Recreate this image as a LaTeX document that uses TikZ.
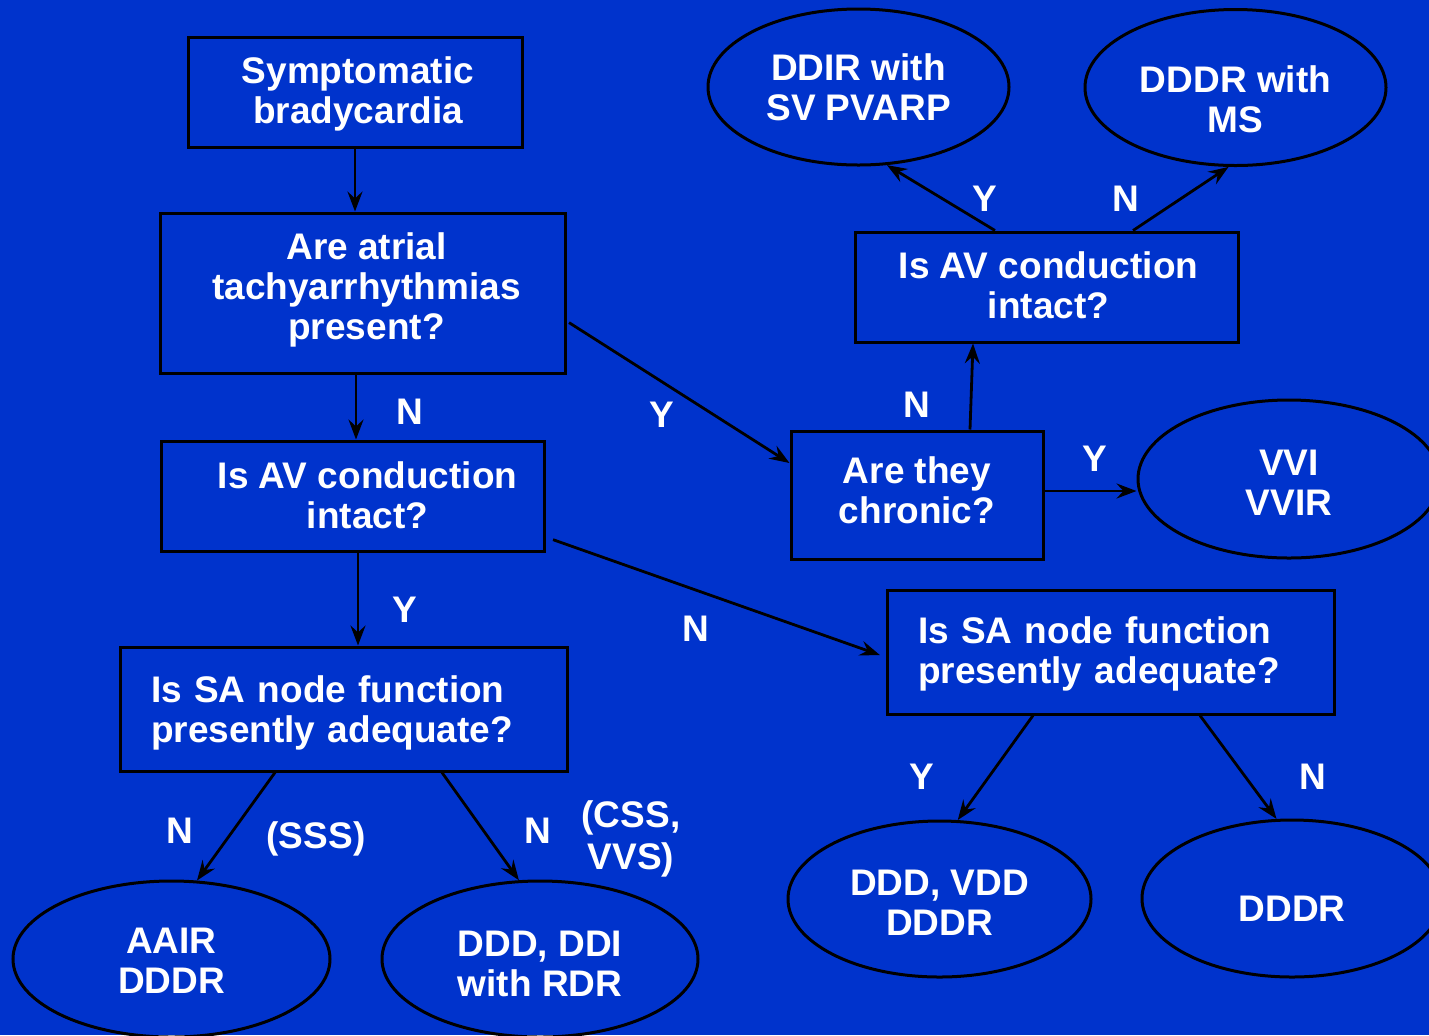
\documentclass[tikz,border=0pt]{standalone}
\usepackage{fontspec}
\setmainfont{Liberation Sans}
\usetikzlibrary{arrows.meta,shapes.geometric}
\definecolor{bgblue}{RGB}{0,51,204}
\newcommand\myshift[3]{\raisebox{#2}[\height][\depth]{\hspace*{#1}\begin{tabular}{@{}c@{}}#3\end{tabular}}}
\newcommand\myshiftl[2]{\raisebox{#1}[\height][\depth]{\begin{tabular}{@{}l@{}}#2\end{tabular}}}
\begin{document}
\begin{tikzpicture}[x=0.5pt,y=-0.5pt,
  every node/.style={font=\fontsize{18.5}{20}\selectfont\bfseries, text=white},
  box/.style={draw=black, line width=1.5pt, rectangle, inner sep=0pt, align=center},
  lbox/.style={box, align=left, text width=192.5pt, inner xsep=15.5pt, minimum width=223.5pt, minimum height=62pt},
  ell/.style={draw=black, line width=1.5pt, ellipse, inner sep=0pt, align=center},
  arr/.style={draw=black, line width=1.4pt, -{Stealth[length=10pt,width=7.5pt,inset=3.5pt]}},
  lab/.style={inner sep=0pt}]
\useasboundingbox (0,0) rectangle (1429,1035);
\fill[bgblue] (0,0) rectangle (1429,1035);
\clip (0,0) rectangle (1429,1035);

% boxes
\node[box, minimum width=167pt, minimum height=55pt] (b1) at (355,92) {\myshift{3pt}{-1.75pt}{Symptomatic\\bradycardia}};
\node[box, minimum width=202.5pt, minimum height=80pt] (b2) at (362.5,293) {\myshift{4pt}{1pt}{Are atrial\\tachyarrhythmias\\present?}};
\node[box, minimum width=191.5pt, minimum height=55pt] (b3) at (352.5,496) {\myshift{15pt}{-2pt}{Is AV conduction\\intact?}};
\node[lbox] (b4) at (343.5,709) {\myshiftl{-2.5pt}{Is SA node function\\presently adequate?}};
\node[box, minimum width=126pt, minimum height=64pt] (b5) at (917,495) {\myshift{0pt}{0pt}{Are they\\chronic?}};
\node[box, minimum width=191.5pt, minimum height=55pt] (b6) at (1046.5,287) {\myshift{2pt}{-1.5pt}{Is AV conduction\\intact?}};
\node[lbox] (b7) at (1110.5,652) {\myshiftl{-1.5pt}{Is SA node function\\presently adequate?}};

% ellipses
\node[ell, minimum width=150.5pt, minimum height=78pt] (e1) at (858.5,87) {\myshift{0pt}{-2.5pt}{DDIR with\\SV PVARP}};
\node[ell, minimum width=150.5pt, minimum height=78pt] (e2) at (1235.5,87.5) {\myshift{0pt}{-8.25pt}{DDDR with\\MS}};
\node[ell, minimum width=151pt, minimum height=79pt] (e3) at (1289,479) {\myshift{0pt}{-4pt}{VVI\\VVIR}};
\node[ell, minimum width=151.5pt, minimum height=78pt] (e4) at (939.5,899) {\myshift{0pt}{-4pt}{DDD, VDD\\DDDR}};
\node[ell, minimum width=150pt, minimum height=78.5pt] (e5) at (1292,898.5) {\myshift{0pt}{-7.25pt}{DDDR}};
\node[ell, minimum width=158.5pt, minimum height=78pt] (e6) at (171.5,959) {\myshift{0pt}{-3.25pt}{AAIR\\DDDR}};
\node[ell, minimum width=158pt, minimum height=78pt] (e7) at (540,959) {\myshift{0pt}{-4.5pt}{DDD, DDI\\with RDR}};

% connectors
\draw[arr] (b1.south -| 355,0) -- (b2.north -| 355,0);
\draw[arr] (b2.south -| 356,0) -- (b3.north -| 356,0);
\draw[arr] (b3.south -| 358,0) -- (b4.north -| 358,0);
\draw[arr, shorten <=1.5pt] (b2.east |- 0,321) -- (b5.west |- 0,463);
\draw[arr, shorten <=4pt, shorten >=3pt] (b3.east |- 0,537) -- (b7.west |- 0,657);
\draw[arr] (b5.north -| 970,0) -- (b6.south -| 973,0);
\draw[arr] (b5.east |- 0,491) -- (e3.west |- 0,491);
\draw[arr] (b6.north -| 995,0) -- (e1.-70);
\draw[arr] (b6.north -| 1133,0) -- (e2.-95);
\draw[arr] (b4.south -| 275,0) -- (e6.72);
\draw[arr] (b4.south -| 442,0) -- (e7.105);
\draw[arr] (b7.south -| 1033,0) -- (e4.77);
\draw[arr] (b7.south -| 1200,0) -- (e5.101);

% labels
\node[lab] (l1) at (410,412) {N};
\node[lab] (l2) at (405,610) {Y};
\node[lab] (l3) at (662,415) {Y};
\node[lab] (l4) at (696,629) {N};
\node[lab] (l5) at (917,405) {N};
\node[lab] (l6) at (1095,459) {Y};
\node[lab] (l7) at (985,199) {Y};
\node[lab] (l8) at (1126,199) {N};
\node[lab] (l9) at (180,831) {N};
\node[lab] (l10) at (316,839) {(SSS)};
\node[lab] (l11) at (538,831) {N};
\node[lab, align=center, font=\fontsize{18.5}{21}\selectfont\bfseries] (l12) at (631,839) {(CSS,\\VVS)};
\node[lab] (l13) at (922,777) {Y};
\node[lab] (l14) at (1313,777) {N};
\end{tikzpicture}
\end{document}
